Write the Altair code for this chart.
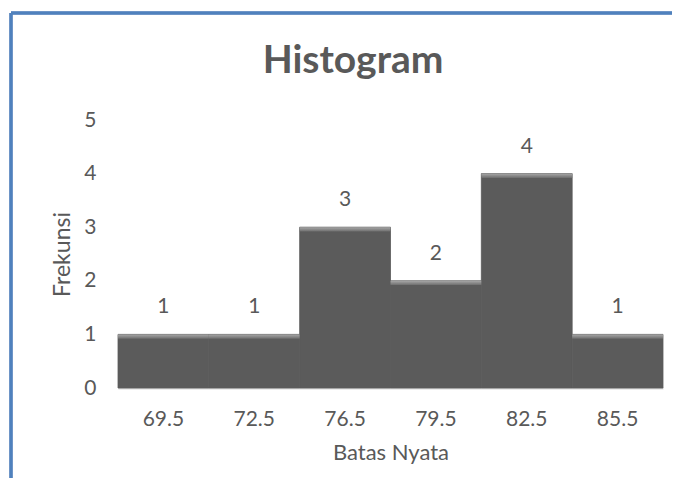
import altair as alt
import pandas as pd

categories = ["69.5", "72.5", "76.5", "79.5", "82.5", "85.5"]
counts = [1, 1, 3, 2, 4, 1]
chart_title = "Histogram"

df = pd.DataFrame({"batas": categories, "frek": counts})
df["hl"] = df["frek"] - 0.08

FONT = "Lato"
TXT = "#595959"

x_enc = alt.X("batas:N", sort=categories, title="Batas Nyata",
              scale=alt.Scale(paddingInner=0, paddingOuter=0),
              axis=alt.Axis(labelAngle=0, ticks=False, tickSize=0, domainColor="#d9d9d9",
                            domainWidth=2, labelPadding=20, titlePadding=13,
                            labelFontSize=21, titleFontSize=22, labelColor=TXT,
                            titleColor=TXT, labelFont=FONT, titleFont=FONT,
                            titleFontWeight="normal"))
y_scale = alt.Scale(domain=[0, 5])

base = alt.Chart(df)

bars = base.mark_bar(color="#5b5b5b", stroke="#5b5b5b", strokeWidth=0.8).encode(
    x=x_enc,
    y=alt.Y("frek:Q", scale=y_scale, title="Frekunsi",
            axis=alt.Axis(values=[0, 1, 2, 3, 4, 5], grid=False, domain=False, ticks=False,
                          tickSize=0, labelPadding=22, titlePadding=9, labelFontSize=21,
                          titleFontSize=23, labelColor=TXT, titleColor=TXT,
                          labelFont=FONT, titleFont=FONT, titleFontWeight="normal")),
)

highlight = base.mark_bar(
    color=alt.Gradient(gradient="linear",
                       stops=[alt.GradientStop(color="#a8a8a8", offset=0),
                              alt.GradientStop(color="#6e6e6e", offset=1)],
                       x1=0, x2=0, y1=0, y2=1)
).encode(
    x=alt.X("batas:N", sort=categories),
    y=alt.Y("frek:Q", scale=y_scale),
    y2="hl:Q",
)

labels = base.mark_text(baseline="bottom", dy=-17, fontSize=21, font=FONT, color=TXT).encode(
    x=alt.X("batas:N", sort=categories),
    y=alt.Y("frek:Q", scale=y_scale),
    text="frek:Q",
)

title_mark = alt.Chart(pd.DataFrame({"t": [chart_title]})).mark_text(
    fontSize=39, font=FONT, fontWeight="bold", color=TXT, baseline="alphabetic", align="center"
).encode(x=alt.value(235), y=alt.value(-47), text="t:N")

border_top = alt.Chart(df).mark_rule(color="#4f81bd", strokeWidth=2.5).encode(
    x=alt.value(-107), x2=alt.value(700), y=alt.value(-107))
border_left = alt.Chart(df).mark_rule(color="#4f81bd", strokeWidth=2.5).encode(
    x=alt.value(-107), y=alt.value(-107), y2=alt.value(500))

chart = alt.layer(bars, highlight, labels, title_mark, border_top, border_left).properties(
    width=545, height=268,
    autosize=alt.AutoSizeParams(type="none"),
    padding={"left": 110, "top": 112, "right": 9, "bottom": 90},
).configure(background="white", view=alt.ViewConfig(strokeWidth=0, stroke="transparent"))

chart.save("out.html", embed_options={"renderer": "svg", "actions": False})
